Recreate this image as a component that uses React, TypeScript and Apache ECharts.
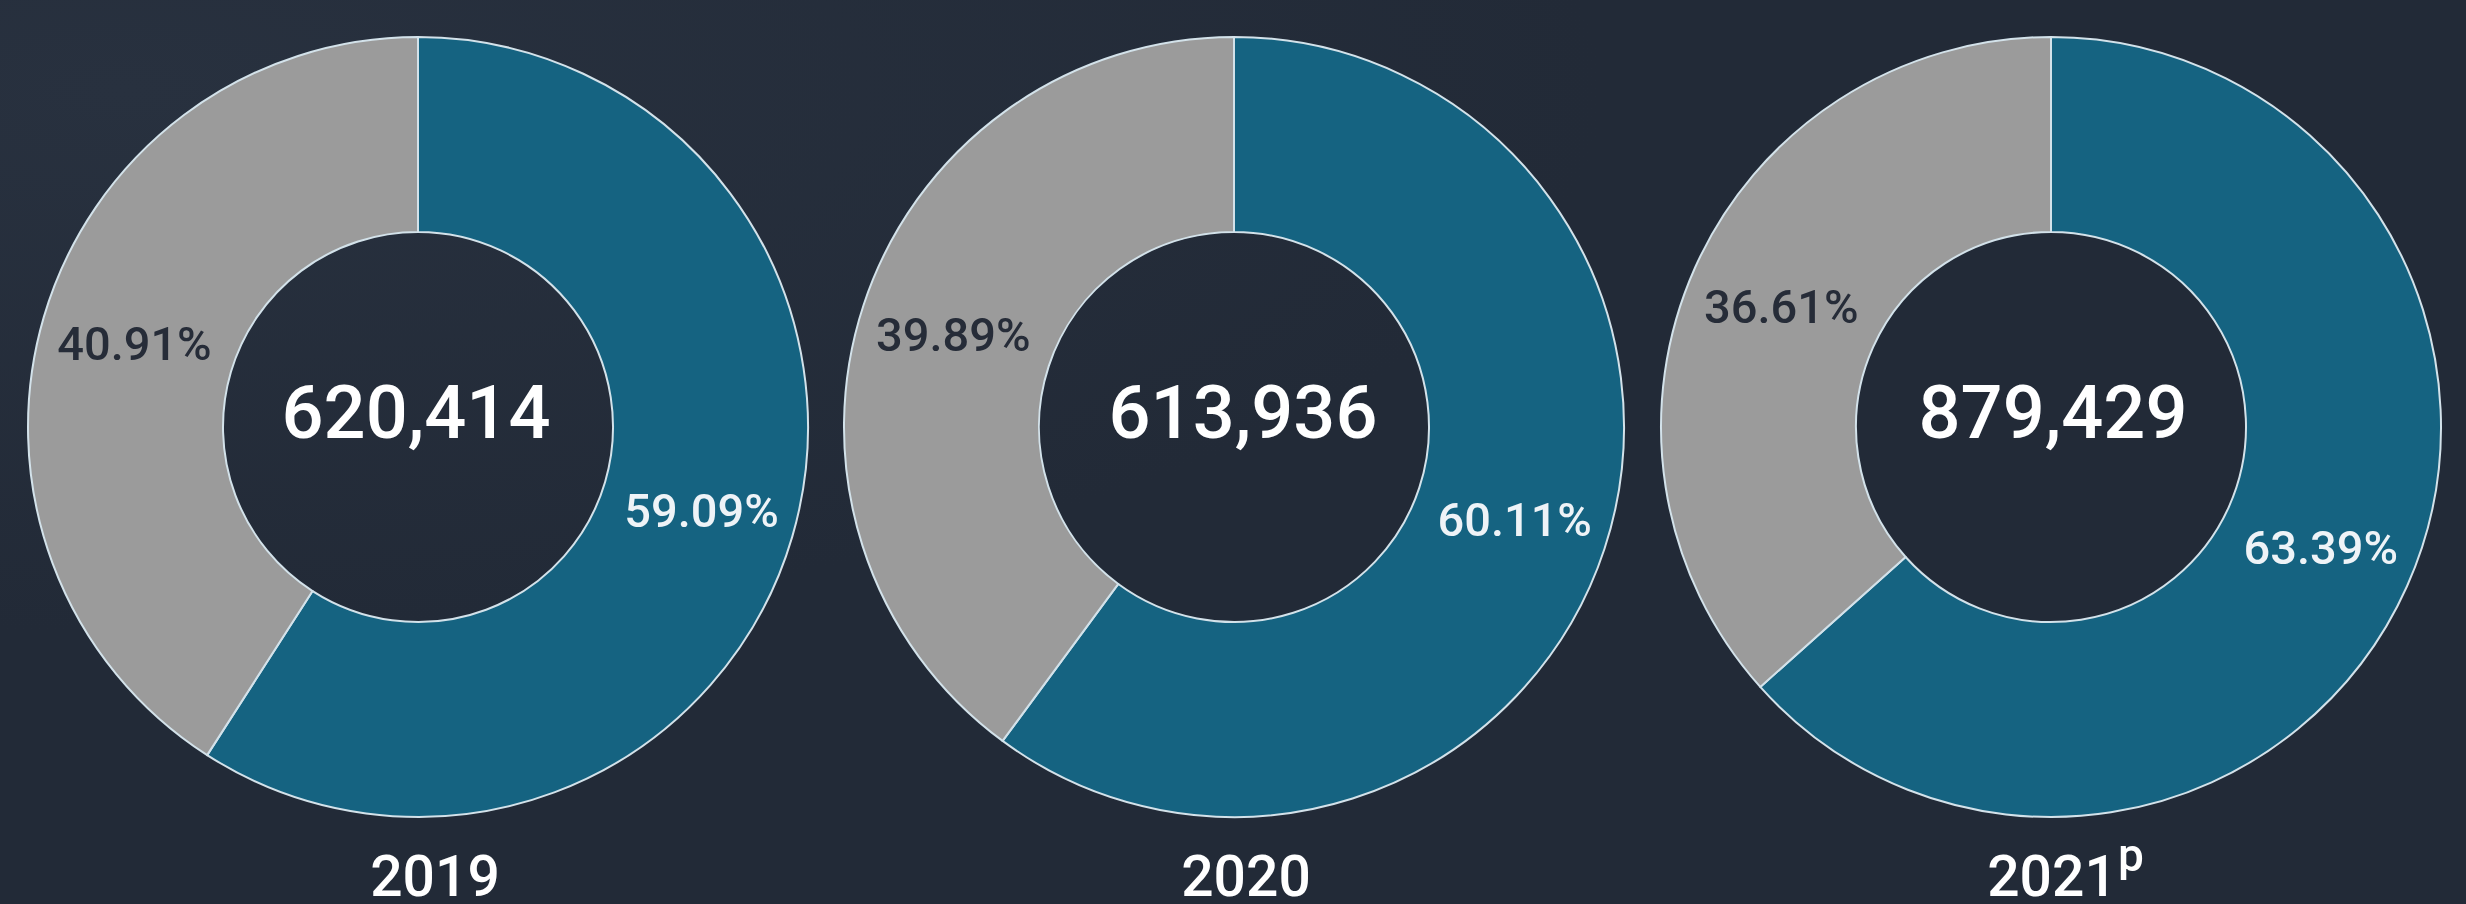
import React, { useEffect, useRef } from "react";
import * as echarts from "echarts";

// ---- data ----
const years = ["2019", "2020", "2021"];
const yearSuffix = ["", "", "p"];
const totals = [620414, 613936, 879429];
const blueShare = [59.09, 60.11, 63.39];
const grayShare = [40.91, 39.89, 36.61];

// ---- layout (not data) ----
const W = 2466;
const H = 904;
const pieCenterX = [418, 1234, 2051];
const pieCenterY = 427;
const totalX = [416, 1243, 2053];
const yearX = [435, 1246, 2052];

const BLUE = "#156381";
const GRAY = "#9b9b9b";
const BG = "#222a37";

export default function App() {
  const ref = useRef<HTMLDivElement>(null);

  useEffect(() => {
    if (!ref.current) return;
    const chart = echarts.init(ref.current, undefined, { renderer: "svg" });

    const series = years.map((y, i) => ({
      type: "pie",
      name: y,
      center: [pieCenterX[i], pieCenterY],
      radius: [195, 390],
      startAngle: 90,
      clockwise: true,
      silent: true,
      itemStyle: { borderColor: "#d3e2ea", borderWidth: 2 },
      label: {
        show: true,
        position: "inside",
        fontFamily: "Roboto",
        fontWeight: 500,
        fontSize: 47,
        formatter: (p: any) => `${Number(p.value).toFixed(2)}%`,
      },
      labelLine: { show: false },
      data: [
        {
          name: "blue",
          value: blueShare[i],
          itemStyle: { color: BLUE },
          label: { color: "#eef3f7" },
        },
        {
          name: "gray",
          value: grayShare[i],
          itemStyle: { color: GRAY },
          label: { color: "#262c38" },
        },
      ],
    }));

    const graphics: any[] = [];
    years.forEach((y, i) => {
      graphics.push({
        type: "text",
        x: totalX[i],
        y: 412,
        silent: true,
        style: {
          text: totals[i].toLocaleString("en-US"),
          fill: "#ffffff",
          fontSize: 74,
          fontWeight: 500,
          fontFamily: "Roboto",
          textAlign: "center",
          textVerticalAlign: "middle",
        },
      });
      graphics.push({
        type: "text",
        x: yearX[i],
        y: 905,
        silent: true,
        style: {
          text: y,
          fill: "#ffffff",
          fontSize: 57,
          fontWeight: 500,
          fontFamily: "Roboto",
          textAlign: "center",
          textVerticalAlign: "bottom",
        },
      });
      if (yearSuffix[i]) {
        graphics.push({
          type: "text",
          x: yearX[i] + 66,
          y: 878,
          silent: true,
          style: {
            text: yearSuffix[i],
            fill: "#ffffff",
            fontSize: 46,
            fontWeight: 500,
            fontFamily: "Roboto",
            textAlign: "left",
            textVerticalAlign: "bottom",
          },
        });
      }
    });

    chart.setOption({
      animation: false,
      backgroundColor: {
        type: "radial",
        x: 0.05,
        y: 0.1,
        r: 0.6,
        colorStops: [
          { offset: 0, color: "#28313f" },
          { offset: 1, color: BG },
        ],
      },
      series,
      graphic: graphics,
    });

    return () => chart.dispose();
  }, []);

  return (
    <div
      ref={ref}
      style={{ position: "fixed", left: 0, top: 0, width: W, height: H }}
    />
  );
}
